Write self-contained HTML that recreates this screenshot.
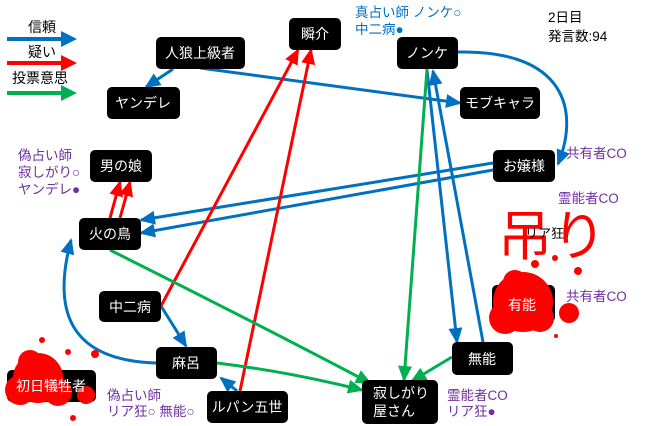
<!DOCTYPE html>
<html><head><meta charset="utf-8"><style>
body{margin:0;background:#fff}
svg{display:block}
text{font-family:"Liberation Sans","Noto Sans CJK JP",sans-serif}
</style></head><body>
<svg width="660" height="426" viewBox="0 0 660 426" xmlns="http://www.w3.org/2000/svg">
<defs>
<marker id="b" markerWidth="16" markerHeight="14" refX="14" refY="7" orient="auto" markerUnits="userSpaceOnUse"><path d="M0,0 L16,7 L0,14z" fill="#0070C0"/></marker>
<marker id="r" markerWidth="16" markerHeight="14" refX="14" refY="7" orient="auto" markerUnits="userSpaceOnUse"><path d="M0,0 L16,7 L0,14z" fill="#FF0000"/></marker>
<marker id="g" markerWidth="16" markerHeight="14" refX="14" refY="7" orient="auto" markerUnits="userSpaceOnUse"><path d="M0,0 L16,7 L0,14z" fill="#00B050"/></marker>
</defs>
<!-- legend -->
<g font-size="14" fill="#000">
<text x="28" y="32">信頼</text><text x="28" y="57">疑い</text><text x="12" y="83">投票意思</text>
</g>
<g stroke-width="4">
<line x1="7" y1="39" x2="62" y2="39" stroke="#0070C0"/>
<path d="M61,31 L77,39 L61,47z" fill="#0070C0"/>
<line x1="7" y1="63" x2="62" y2="63" stroke="#FF0000"/>
<path d="M61,55 L77,63 L61,71z" fill="#FF0000"/>
<line x1="7" y1="93" x2="62" y2="93" stroke="#00B050"/>
<path d="M61,85 L77,93 L61,101z" fill="#00B050"/>
</g>
<!-- edges -->
<g stroke-width="3" fill="none">
<line x1="173" y1="69" x2="146" y2="87" stroke="#0070C0" marker-end="url(#b)"/>
<path d="M200,68 Q330,85 460,103" stroke="#0070C0" marker-end="url(#b)"/>
<path d="M458,52 C565,50 580,110 558,164" stroke="#0070C0" marker-end="url(#b)"/>
<line x1="493" y1="163" x2="141" y2="220" stroke="#0070C0" marker-end="url(#b)"/>
<line x1="493" y1="170" x2="141" y2="233" stroke="#0070C0" marker-end="url(#b)"/>
<line x1="427" y1="70" x2="457" y2="342" stroke="#0070C0" marker-end="url(#b)"/>
<line x1="483" y1="342" x2="433" y2="71" stroke="#0070C0" marker-end="url(#b)"/>
<line x1="161" y1="306" x2="186" y2="346" stroke="#0070C0" marker-end="url(#b)"/>
<path d="M156,363 C60,360 55,300 71,240" stroke="#0070C0" marker-end="url(#b)"/>
<line x1="237" y1="391" x2="221" y2="378" stroke="#0070C0" marker-end="url(#b)"/>
<line x1="110" y1="218" x2="120" y2="182" stroke="#FF0000" marker-end="url(#r)"/>
<line x1="120" y1="218" x2="130" y2="182" stroke="#FF0000" marker-end="url(#r)"/>
<line x1="161" y1="306" x2="298" y2="50" stroke="#FF0000" marker-end="url(#r)"/>
<line x1="240" y1="391" x2="311" y2="50" stroke="#FF0000" marker-end="url(#r)"/>
<line x1="427" y1="69" x2="404" y2="380" stroke="#00B050" marker-end="url(#g)"/>
<path d="M110,250 Q250,320 370,383" stroke="#00B050" marker-end="url(#g)"/>
<path d="M217,363 Q290,372 362,390" stroke="#00B050" marker-end="url(#g)"/>
<line x1="452" y1="357" x2="412" y2="381" stroke="#00B050" marker-end="url(#g)"/>
</g>
<!-- nodes -->
<g fill="#000">
<rect x="289" y="18" width="52" height="32" rx="5"/>
<rect x="156" y="37" width="89" height="32" rx="5"/>
<rect x="107" y="87" width="73" height="32" rx="5"/>
<rect x="90" y="150" width="62" height="32" rx="5"/>
<rect x="79" y="218" width="62" height="32" rx="5"/>
<rect x="99" y="291" width="62" height="31" rx="5"/>
<rect x="156" y="347" width="61" height="32" rx="5"/>
<rect x="207" y="391" width="81" height="32" rx="5"/>
<rect x="7" y="370" width="89" height="32" rx="5"/>
<rect x="397" y="37" width="61" height="32" rx="5"/>
<rect x="460" y="87" width="80" height="32" rx="5"/>
<rect x="493" y="150" width="62" height="32" rx="5"/>
<rect x="492" y="285" width="63" height="37" rx="5"/>
<rect x="452" y="342" width="61" height="33" rx="5"/>
<rect x="362" y="380" width="76" height="44" rx="5"/>
</g>
<!-- splats -->
<g fill="#FF0000">
<circle cx="523" cy="302" r="30"/><circle cx="505" cy="318" r="16"/><circle cx="540" cy="318" r="14"/><circle cx="515" cy="282" r="12"/>
<circle cx="569" cy="313" r="10"/><circle cx="535" cy="264" r="4"/><circle cx="578" cy="271" r="4"/><circle cx="555" cy="258" r="3"/><circle cx="556" cy="336" r="2"/>
<circle cx="38" cy="378" r="25"/><circle cx="20" cy="390" r="15"/><circle cx="58" cy="392" r="14"/><circle cx="86" cy="395" r="9"/><circle cx="30" cy="362" r="12"/>
<circle cx="42" cy="340" r="3"/><circle cx="68" cy="352" r="3"/><circle cx="95" cy="354" r="4"/><circle cx="73" cy="418" r="3"/>
</g>
<!-- node labels -->
<g font-size="14" fill="#fff" text-anchor="middle">
<text x="315" y="39">瞬介</text>
<text x="200" y="58">人狼上級者</text>
<text x="143" y="108">ヤンデレ</text>
<text x="121" y="171">男の娘</text>
<text x="110" y="239">火の鳥</text>
<text x="130" y="312">中二病</text>
<text x="186" y="368">麻呂</text>
<text x="247" y="412">ルパン五世</text>
<text x="51" y="391">初日犠牲者</text>
<text x="427" y="58">ノンケ</text>
<text x="500" y="108">モブキャラ</text>
<text x="524" y="171">お嬢様</text>
<text x="522" y="310">有能</text>
<text x="482" y="364">無能</text>
</g>
<g font-size="14" fill="#fff"><text x="373" y="398">寂しがり</text><text x="373" y="416">屋さん</text></g>
<!-- annotations -->
<g font-size="13.5" fill="#7030A0">
<text x="18" y="160">偽占い師</text><text x="18" y="177">寂しがり○</text><text x="18" y="194">ヤンデレ●</text>
<text x="566" y="158">共有者CO</text><text x="558" y="203">霊能者CO</text><text x="566" y="301">共有者CO</text>
<text x="447" y="400">霊能者CO</text><text x="447" y="416">リア狂●</text>
<text x="107" y="400">偽占い師</text><text x="107" y="416">リア狂○ 無能○</text>
</g>
<g font-size="13.5" fill="#0070C0"><text x="355" y="17">真占い師 ノンケ○</text><text x="355" y="34">中二病●</text></g>
<g font-size="13.5" fill="#000"><text x="548" y="22">2日目</text><text x="548" y="41">発言数:94</text></g>
<text x="498" y="255" font-size="54" fill="#FF0000">吊り</text>
<text x="525" y="238" font-size="13" fill="#000">リア狂</text>
</svg>
</body></html>
